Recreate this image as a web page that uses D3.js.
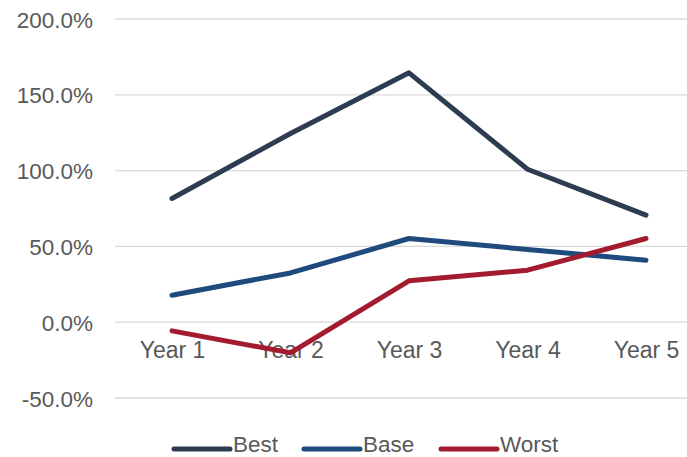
<!DOCTYPE html>
<html><head><meta charset="utf-8">
<script src="https://cdn.jsdelivr.net/npm/d3@7"></script>
<style>body{margin:0;background:#fff}svg{display:block}</style>
</head><body>
<svg id="c" width="687" height="457"></svg>
<script>
const categories = ["Year 1","Year 2","Year 3","Year 4","Year 5"];
const best  = [81.6, 124.5, 164.5, 100.9, 70.6];
const base  = [17.8, 32.5, 55.2, 48.0, 40.9];
const worst = [-5.7, -20.2, 27.3, 34.3, 55.2];
const seriesNames = ["Best","Base","Worst"];
const seriesColors = ["#2E3C52","#1F4A7E","#A31B2E"];
const yTicks = [-50, 0, 50, 100, 150, 200];

const svg = d3.select("#c");
const font = "'Liberation Sans', Arial, sans-serif";
const x = d3.scalePoint().domain(categories).range([172, 646]);
const y = d3.scaleLinear().domain([-50, 200]).range([398, 19]);

// gridlines
svg.append("g").selectAll("line").data(yTicks).join("line")
  .attr("x1", 115).attr("x2", 705)
  .attr("y1", d => y(d)).attr("y2", d => y(d))
  .attr("stroke", "#d9d9d9").attr("stroke-width", 1.3);

// y axis labels
const yAxis = d3.axisLeft(y).tickValues(yTicks).tickSize(0).tickPadding(0)
  .tickFormat(d => (d < 0 ? "-" : "") + Math.abs(d).toFixed(1) + "%");
const gy = svg.append("g").attr("transform", "translate(93,0)").call(yAxis);
gy.select(".domain").remove();
gy.selectAll("text").attr("font-family", font).attr("font-size", 22.5)
  .attr("fill", "#595959").attr("dy", "0.36em");

// x axis labels
const xAxis = d3.axisBottom(x).tickSize(0).tickPadding(0);
const gx = svg.append("g").attr("transform", "translate(0,341)").call(xAxis);
gx.select(".domain").remove();
gx.selectAll("text").attr("font-family", font).attr("font-size", 23)
  .attr("fill", "#595959").attr("dy", "0.72em");

// lines
const data = [best, base, worst];
const line = d3.line().x((d, i) => x(categories[i])).y(d => y(d));
svg.append("g").selectAll("path").data(data).join("path")
  .attr("d", line).attr("fill", "none")
  .attr("stroke", (d, i) => seriesColors[i]).attr("stroke-width", 5)
  .attr("stroke-linecap", "round").attr("stroke-linejoin", "round");

// legend
const legendX = [174, 304, 441];
const lg = svg.append("g").selectAll("g").data(seriesNames).join("g")
  .attr("transform", (d, i) => `translate(${legendX[i]},449)`);
lg.append("line").attr("x1", 0).attr("x2", 56).attr("y1", 0).attr("y2", 0)
  .attr("stroke", (d, i) => seriesColors[i]).attr("stroke-width", 5)
  .attr("stroke-linecap", "round");
lg.append("text").attr("x", 59).attr("y", 2.5)
  .attr("font-family", font).attr("font-size", 22.5).attr("fill", "#595959")
  .text(d => d);
</script>
</body></html>
